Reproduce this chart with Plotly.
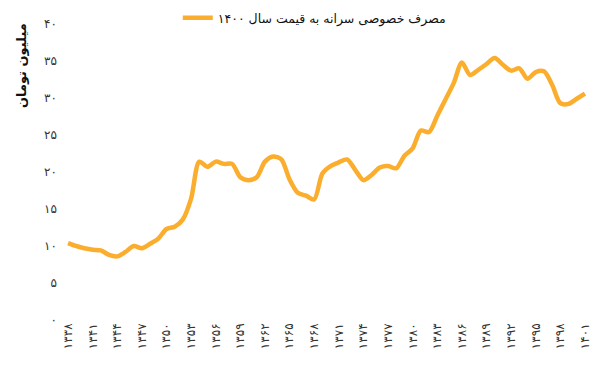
import plotly.graph_objects as go

FA = str.maketrans("0123456789", "۰۱۲۳۴۵۶۷۸۹")

years = list(range(1338, 1402))
values = [10.4, 10.0, 9.7, 9.5, 9.4, 8.8, 8.6, 9.2, 10.0, 9.7,
          10.3, 11.0, 12.3, 12.6, 13.6, 16.4, 21.4, 20.7, 21.4, 21.1,
          21.1, 19.3, 18.9, 19.3, 21.4, 22.1, 21.7, 19.0, 17.2, 16.8,
          16.3, 19.8, 20.8, 21.3, 21.7, 20.3, 18.9, 19.6, 20.6, 20.8,
          20.5, 22.2, 23.2, 25.6, 25.4, 27.6, 29.8, 32.0, 34.8, 33.1,
          33.8, 34.6, 35.4, 34.5, 33.7, 34.0, 32.6, 33.5, 33.6, 31.8,
          29.3, 29.2, 29.9, 30.6]
x_ticks = list(range(1338, 1402, 3))
x_ticktext = [str(v).translate(FA) for v in x_ticks]
y_ticks = list(range(0, 41, 5))
y_ticktext = [str(v).translate(FA) for v in y_ticks]

series_name = "مصرف خصوصی سرانه به قیمت سال ۱۴۰۰"
y_title = "میلیون تومان"

fig = go.Figure()
fig.add_trace(go.Scatter(
    x=years, y=values, mode="lines", name=series_name,
    line=dict(color="#FBAE2D", width=4.5, shape="spline", smoothing=0.8),
    showlegend=True,
))

fig.update_layout(
    width=590, height=374,
    margin=dict(l=50, r=5, t=16, b=62, autoexpand=False),
    paper_bgcolor="white", plot_bgcolor="white",
    font=dict(family="DejaVu Sans", size=12, color="#222"),
    showlegend=True,
    legend=dict(orientation="h", x=0.479, xanchor="center", y=1.02, yanchor="middle",
                font=dict(size=12.5, color="#111"), bgcolor="rgba(0,0,0,0)",
                itemwidth=30),
    xaxis=dict(range=[1336.78, 1401.98], tickmode="array", tickvals=x_ticks,
               ticktext=x_ticktext, tickangle=-90, showgrid=False, zeroline=False,
               showline=False, ticks="", tickfont=dict(size=12, color="#333")),
    yaxis=dict(range=[0, 40], tickmode="array", tickvals=y_ticks, ticktext=y_ticktext,
               showgrid=False, zeroline=False, showline=False, ticks="",
               tickfont=dict(size=12, color="#333")),
    annotations=[dict(text="<b>" + y_title + "</b>", textangle=-90, xref="paper", yref="paper",
                      x=-0.068, y=0.86, xanchor="center", yanchor="middle",
                      showarrow=False, font=dict(size=13, color="#111"))],
)

fig.write_html("out.html")
